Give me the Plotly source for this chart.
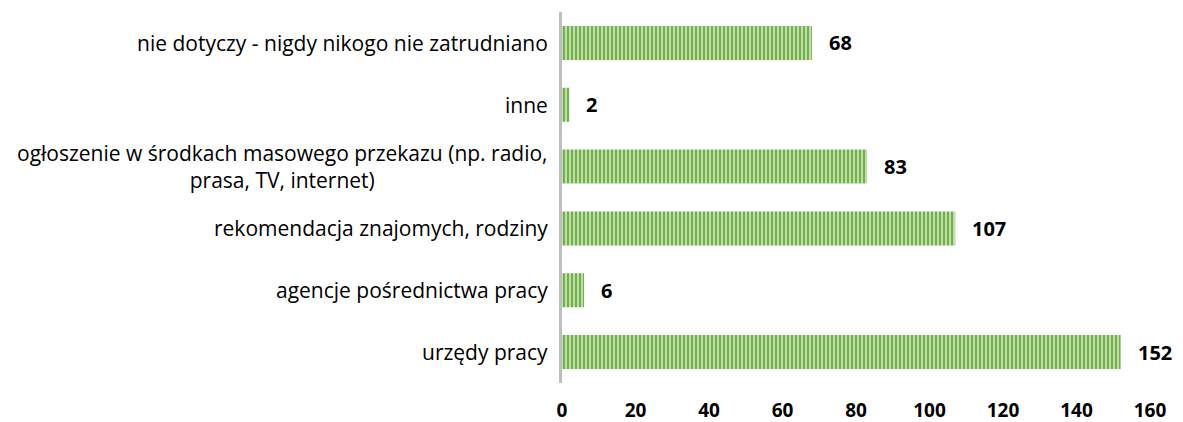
import plotly.graph_objects as go

categories = [
    "urzędy pracy",
    "agencje pośrednictwa pracy",
    "rekomendacja znajomych, rodziny",
    "ogłoszenie w środkach masowego przekazu (np. radio,<br>prasa, TV, internet)",
    "inne",
    "nie dotyczy - nigdy nikogo nie zatrudniano",
]
values = [152, 6, 107, 83, 2, 68]
x_ticks = [0, 20, 40, 60, 80, 100, 120, 140, 160]

FONT = "'Open Sans', Lato, sans-serif"

fig = go.Figure()
fig.add_trace(go.Bar(
    x=values,
    y=categories,
    orientation="h",
    width=0.55,
    marker=dict(
        color="#A9D18E",
        line=dict(width=0),
        pattern=dict(shape="|", fgcolor="#72B04A", bgcolor="#C8E3B6", size=4, solidity=0.55, fillmode="replace"),
    ),
    hoverinfo="skip",
))

for c, v in zip(categories, values):
    fig.add_annotation(x=v, y=c, xref="x", yref="y", text="<b>%d</b>" % v,
                       showarrow=False, xanchor="left", xshift=15,
                       font=dict(family=FONT, size=20, color="#000000"))
    fig.add_annotation(x=0, y=c, xref="paper", yref="y", text=c,
                       showarrow=False, xanchor="right", xshift=-12, align="center",
                       font=dict(family=FONT, size=21, color="#000000"))

fig.update_layout(
    width=1175, height=414,
    margin=dict(l=554, r=33, t=4, b=39, autoexpand=False),
    plot_bgcolor="white", paper_bgcolor="white",
    showlegend=False,
    xaxis=dict(range=[0, 160], tickvals=x_ticks, ticktext=["<b>%d</b>" % t for t in x_ticks],
               showgrid=False, zeroline=False, showline=False, ticks="",
               automargin=False, ticklabelstandoff=14,
               tickfont=dict(family=FONT, size=19, color="#000000")),
    yaxis=dict(type="category", categoryorder="array", categoryarray=categories,
               showticklabels=False, showgrid=False, zeroline=False, automargin=False,
               showline=True, linecolor="#BFBFBF", linewidth=3, ticks=""),
)

fig.write_html("out.html")
